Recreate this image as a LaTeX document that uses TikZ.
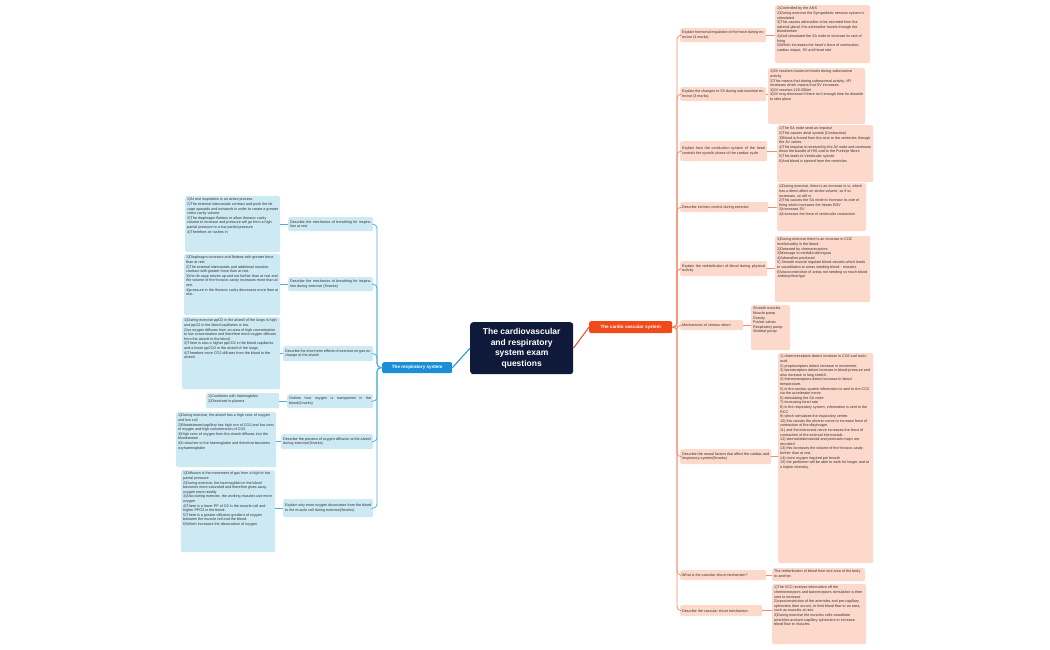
\documentclass[tikz,border=0pt]{standalone}
\usepackage{fontspec}
\setmainfont{Liberation Sans}
\definecolor{bfill}{HTML}{CDE9F3}
\definecolor{bline}{HTML}{4AB0D8}
\definecolor{bmain}{HTML}{1A8FD6}
\definecolor{ofill}{HTML}{FDD9CC}
\definecolor{oline}{HTML}{F58A6A}
\definecolor{omain}{HTML}{F04A1A}
\definecolor{navy}{HTML}{0F1A3A}
\definecolor{txt}{HTML}{333333}
\newcommand\pt[3]{\parbox[c][#2pt][t]{#1pt}{\raggedright #3}}
\tikzset{
 base/.style={anchor=north west, rounded corners=2pt, inner sep=2pt, text=txt, font=\fontsize{3.7}{4.6}\selectfont, align=left},
 bq/.style={base, fill=bfill},
 oq/.style={base, fill=ofill},
 bc/.style={bline, line width=0.8pt, rounded corners=4pt},
 oc/.style={oline, line width=0.8pt, rounded corners=4pt},
}
\begin{document}
\begin{tikzpicture}[x=1pt,y=-1pt]
\useasboundingbox[fill=white] (0,0) rectangle (1050,650);
% centre
\node[anchor=north west, fill=navy, rounded corners=3pt, minimum width=103pt, minimum height=52pt, text=white, font=\fontsize{8.5}{10.5}\selectfont\bfseries, align=center, inner sep=2pt] (title) at (470,322) {The cardiovascular\\and respiratory\\system exam\\questions};
\node[anchor=north west, fill=bmain, rounded corners=2pt, minimum width=70pt, minimum height=11pt, text=white, font=\fontsize{4.6}{5.5}\selectfont\bfseries, inner sep=1pt] (resp) at (382,362) {The respiratory system};
\node[anchor=north west, fill=omain, rounded corners=2pt, minimum width=83pt, minimum height=12pt, text=white, font=\fontsize{4.6}{5.5}\selectfont\bfseries, inner sep=1pt] (card) at (589,321) {The cardio vascular system};
\draw[bmain, line width=1pt] (title.west) -- (resp.east);
\draw[omain, line width=1pt] (title.east) -- (card.west);

% respiratory questions
\node[bq, minimum height=14pt] (q1) at (288,217) {\parbox{81pt}{Describe the mechanics of breathing for inspiration at rest}};
\node[bq, minimum height=14pt] (q2) at (288,277) {\parbox{81pt}{Describe the mechanics of breathing for inspiration during exercise (3marks)}};
\node[bq, minimum height=15pt] (q3) at (283,346) {\parbox{86pt}{Describe the short term effects of exercise on gas exchange at the alveoli}};
\node[bq, minimum height=14pt] (q4) at (287,394) {\parbox{82pt}{Outline how oxygen is transported in the blood(2marks)}};
\node[bq, minimum height=15pt] (q5) at (281,434) {\parbox{88pt}{Describe the process of oxygen diffusion at the alveoli during exercise(3marks)}};
\node[bq, minimum height=18pt] (q6) at (283,499) {\parbox{86pt}{Explain why more oxygen dissociates from the blood to the muscle cell during exercise(3marks)}};

\node[bq] (a1) at (185,196) {\pt{91}{52}{1)At rest inspiration is an active process\\2)The external intercostals contract and push the rib cage upwards and outwards in order to create a greater chest cavity volume\\3)The diaphragm flattens to allow thoracic cavity volume to increase and pressure will go from a high partial pressure to a low partial pressure\\4)Therefore air rushes in}};
\node[bq] (a2) at (184,254) {\pt{92}{57}{1)Diaphragm contracts and flattens with greater force than at rest\\2)The external intercostals and additional muscles contract with greater force than at rest.\\3)the rib cage moves up and out further than at rest and the volume of the thoracic cavity increases more than at rest.\\4)pressure in the thoracic cavity decreases more than at rest.}};
\node[bq] (a3) at (182,317) {\pt{94}{68}{1)During exercise ppO2 in the alveoli of the lungs is high and ppO2 in the blood capillaries is low.\\2)so oxygen diffuses from an area of high concentration to low concentration and therefore more oxygen diffuses from the alveoli to the blood.\\3)There is also a higher ppCO2 in the blood capillaries and a lower ppCO2 in the alveoli of the lungs.\\4)Therefore more CO2 diffuses from the blood to the alveoli.}};
\node[bq] (a4) at (206,393) {\pt{69}{11}{1)Combines with haemoglobin\\2)Dissolved in plasma}};
\node[bq] (a5) at (176,412) {\pt{96}{51}{1)During exercise, the alveoli has a high conc of oxygen and low co2\\2)Bloodstream/capillary has high con of CO2 and low conc of oxygen and high concentration of CO2\\3)High conc of oxygen from the alveoli diffuses into the bloodstream\\4)It attaches to the haemoglobin and therefore becomes oxyhaemoglobin}};
\node[bq] (a6) at (181,470) {\pt{90}{78}{1)Diffusion is the movement of gas from a high to low partial pressure\\2)During exercise, the haemoglobin in the blood becomes more saturated and therefore gives away oxygen more readily\\3)Also during exercise, the working muscles use more oxygen\\4)There is a lower PP of O2 in the muscle cell and higher PPO2 in the blood.\\5)There is a greater diffusion gradient of oxygen between the muscle cell and the blood.\\6)Which increases the dissociation of oxygen}};

\foreach \q in {q1,q2,q3,q4,q5,q6} \draw[bc] (resp.west) -- (377,367.5) |- (\q.east);
\foreach \q/\a in {q1/a1,q2/a2,q3/a3,q4/a4,q5/a5,q6/a6} \draw[bline, line width=0.8pt] (\q.west) -- (\q.west -| \a.east);

% cardio questions
\node[oq, minimum height=14pt] (r1) at (680,28) {\parbox{82pt}{Explain hormonal regulation of the heart during exercise (4 marks)}};
\node[oq, minimum height=14pt] (r2) at (680,87) {\parbox{82pt}{Explain the changes to SV during sub maximal exercise (3 marks)}};
\node[oq, minimum height=20pt] (r3) at (680,141) {\parbox{83pt}{Explain how the conduction system of the heart controls the systolic phase of the cardiac cycle}};
\node[oq, minimum height=10pt] (r4) at (680,202) {\parbox{84pt}{Describe intrinsic control during exercise}};
\node[oq, minimum height=15pt] (r5) at (680,261) {\parbox{83pt}{Explain the redistribution of blood during physical activity}};
\node[oq, minimum height=10pt] (r6) at (680,320) {\parbox{59pt}{Mechanisms of venous return}};
\node[oq, minimum height=15pt] (r7) at (680,449) {\parbox{87pt}{Describe the neural factors that affect the cardiac and respiratory system(8marks)}};
\node[oq, minimum height=10pt] (r8) at (680,570) {\parbox{82pt}{What is the vascular shunt mechanism?}};
\node[oq, minimum height=11pt] (r9) at (680,605) {\parbox{78pt}{Describe the vascular shunt mechanism}};

\node[oq] (s1) at (775,5) {\pt{91}{54}{1)Controlled by the ANS\\2)During exercise the Sympathetic nervous system is stimulated\\3)This causes adrenaline to be secreted from the adrenal gland, this adrenaline travels through the bloodstream\\4)And stimulated the SA node to increase its rate of firing\\5)Which increases the heart's force of contraction, cardiac output, SV and heart rate}};
\node[oq] (s2) at (768,68) {\pt{93}{52}{1)SV reaches maximum levels during submaximal activity\\2)This means that during submaximal activity, VR increases which means that SV increases\\3)SV reaches 120-200ml\\4)SV may decrease if there isn't enough time for diastole to take place}};
\node[oq] (s3) at (777,125) {\pt{92}{53}{1)The SA node send an impulse\\2)This causes atrial systole (Contraction)\\3)Blood is forced from the atria to the ventricles through the AV valves\\4)This impulse is received by the AV node and continues down the bundle of HIS and to the Purkinje fibres\\5)This leads to Ventricular systole\\6)And blood is ejected from the ventricles}};
\node[oq] (s4) at (777,183) {\pt{85}{44}{1)During exercise, there is an increase in vr, which has a direct affect on stroke volume, so if sv increases, so will vr\\2)This causes the SA node to increase its rate of firing which increases the hearts EDV\\3)Increases SV\\4)Increases the force of ventricular contraction}};
\node[oq] (s5) at (775,236) {\pt{91}{62}{1)During exercise there is an increase in CO2 levels/acidity in the blood .\\2)Detected by chemoreceptors\\3)Message to medulla oblongata\\4)Adrenaline produced\\5) Smooth muscle regulate blood vessels which leads to vasodilation to areas needing blood - muscles\\6)Vasoconstriction of areas not needing so much blood -kidneys/liver/gut}};
\node[oq] (s6) at (751,305) {\pt{35}{41}{Smooth muscles\\Muscle pump\\Gravity\\Pocket valves\\Respiratory pump\\Skeletal pump}};
\node[oq] (s7) at (778,353) {\pt{91}{206}{1) chemoreceptors detect increase in CO2 and lactic acid.\\2) proprioceptors detect increase in movement.\\3) baroreceptors detect increase in blood pressure and also increase in lung stretch.\\4) thermoreceptors detect increase in blood temperature.\\5) in the cardiac system information is sent to the CCC via the accelerator nerve.\\6) stimulating the SA node\\7) increasing heart rate\\8) in the respiratory system, information is sent to the RCC\\9) which stimulates the inspiratory centre.\\10) this causes the phrenic nerve to increase force of contraction of the diaphragm.\\11) and the intercostal nerve increases the force of contraction of the external intercostals.\\12) sternocleidomastoid and pectorals major are recruited\\13) this increases the volume of the thoracic cavity further than at rest.\\14) more oxygen inspired per breath\\15) the performer will be able to work for longer and at a higher intensity.}};
\node[oq] (s8) at (772,568) {\pt{89}{9}{The redistribution of blood from one area of the body to another.}};
\node[oq] (s9) at (772,584) {\pt{90}{56}{1)The VCC receives information off the chemoreceptors and baroreceptors stimulation is then sent to increase\\2)vasoconstriction of the arterioles and pre-capillary sphincters then occurs, to limit blood flow to an area, such as muscles at rest.\\3)During exercise the muscles cells vasodilate arterioles and pre-capillary sphincters to increase blood flow to muscles.}};

\foreach \q in {r1,r2,r3,r4,r5,r6,r7,r8,r9} \draw[oc] (card.east) -- (677,327) |- (\q.west);
\foreach \q/\a in {r1/s1,r2/s2,r3/s3,r4/s4,r5/s5,r6/s6,r7/s7,r8/s8,r9/s9} \draw[oline, line width=0.8pt] (\q.east) -- (\q.east -| \a.west);
\end{tikzpicture}
\end{document}
